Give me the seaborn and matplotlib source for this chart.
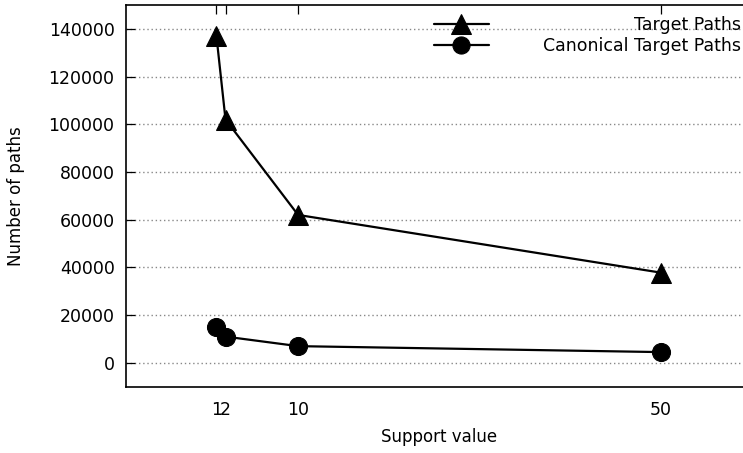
import matplotlib
matplotlib.use("Agg")
import matplotlib.pyplot as plt
import seaborn as sns
import pandas as pd

support = [1, 2, 10, 50]
target_paths = [137000, 102000, 62000, 37800]
canonical_paths = [15000, 11000, 7000, 4500]
series_names = ["Target Paths", "Canonical Target Paths"]
x_ticks = [1, 2, 10, 50]
y_ticks = [0, 20000, 40000, 60000, 80000, 100000, 120000, 140000]

sns.set_theme(style="white")
plt.rcParams['font.family'] = ['DejaVu Sans']

fig = plt.figure(figsize=(7.43, 4.53), dpi=100)
ax = fig.add_axes([125.7 / 743, 1 - 386.7 / 453, (751.8 - 125.7) / 743, (386.7 - 5) / 453])

df1 = pd.DataFrame({"x": support, "y": target_paths})
df2 = pd.DataFrame({"x": support, "y": canonical_paths})
sns.lineplot(data=df1, x="x", y="y", ax=ax, color="black", marker="^", markersize=15,
             linewidth=1.6, label=series_names[0], markeredgecolor="black")
sns.lineplot(data=df2, x="x", y="y", ax=ax, color="black", marker="o", markersize=13,
             linewidth=1.6, label=series_names[1], markeredgecolor="black")

ax.set_xlim(-9, 60)
ax.set_ylim(-10000, 150000)
ax.set_xticks(x_ticks)
ax.set_xticklabels(["1", "2", "10", "50"])
ax.set_yticks(y_ticks)
ax.set_yticklabels([str(v) for v in y_ticks])
ax.yaxis.grid(True, linestyle=(0, (1, 2)), color="#888888", linewidth=1.0)
ax.xaxis.grid(False)
ax.set_axisbelow(True)

for s in ax.spines.values():
    s.set_color("black")
    s.set_linewidth(1.2)
ax.spines["right"].set_visible(False)

ax.tick_params(axis="both", direction="in", length=6.5, width=0.9, color="black",
               labelsize=12.5, labelcolor="black", pad=8)
ax.tick_params(axis="x", top=True, pad=10)
ax.tick_params(axis="y", left=True)

ax.set_xlabel("Support value", fontsize=12, labelpad=7, color="black")
ax.set_ylabel("Number of paths", fontsize=12, labelpad=17, color="black")

leg = ax.legend(loc="upper right", bbox_to_anchor=(741 / 743, 1 - 16 / 453),
                bbox_transform=fig.transFigure, frameon=False, fontsize=12.5,
                handlelength=3.2, handletextpad=3.1, labelspacing=0.2,
                borderaxespad=0, borderpad=0, markerscale=0.95)
for t in leg.get_texts():
    t.set_color("black")

# right-align legend texts
fig.canvas.draw()
renderer = fig.canvas.get_renderer()
texts = leg.get_texts()
widths = [t.get_window_extent(renderer).width for t in texts]
maxw = max(widths)
items = leg._legend_handle_box.get_children()[0].get_children()
for item, w in zip(items, widths):
    item.sep = item.sep + (maxw - w) * 72.0 / fig.dpi

fig.savefig("out.png", dpi=100)
